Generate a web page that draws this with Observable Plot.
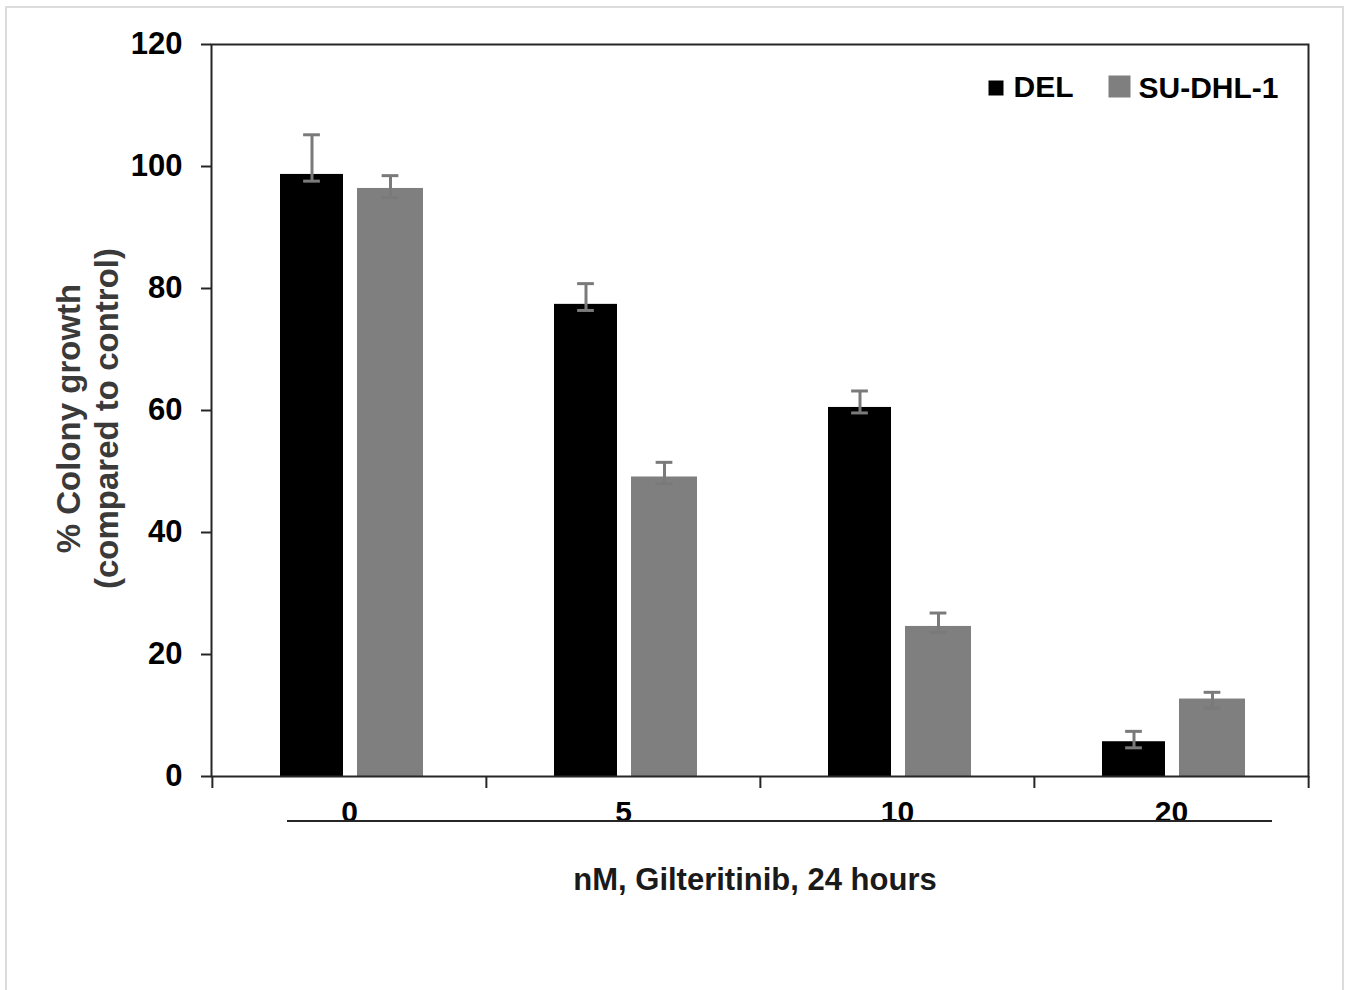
<!DOCTYPE html>
<html>
<head>
<meta charset="utf-8">
<script src="https://cdn.jsdelivr.net/npm/d3@7"></script>
<script src="https://cdn.jsdelivr.net/npm/@observablehq/plot@0.6"></script>
<style>
html, body { margin: 0; padding: 0; background: #fff; overflow: hidden; }
#border { position: absolute; left: 5px; top: 6px; width: 1339px; height: 1000px; border: 2px solid #dcdcdc; box-sizing: border-box; }
#chart { position: absolute; left: 0; top: 0; }
</style>
</head>
<body>
<div id="border"></div>
<div id="chart"></div>
<script>
// ---- data ----
const categories = ["0", "5", "10", "20"];
const seriesNames = ["DEL", "SU-DHL-1"];
const delValues = [98.7, 77.4, 60.5, 5.7];
const delErrHigh = [105.2, 80.8, 63.2, 7.4];
const delErrLow = [97.6, 76.4, 59.6, 4.7];
const suValues = [96.4, 49.1, 24.6, 12.7];
const suErrHigh = [98.5, 51.5, 26.8, 13.8];
const suErrLow = [94.9, 48.0, 23.6, 11.2];
const yTicks = [0, 20, 40, 60, 80, 100, 120];
const yTitle = "% Colony growth\n(compared to control)";
const xTitle = "nM, Gilteritinib, 24 hours";

// ---- layout ----
const W = 1350, H = 990;
const mL = 211, mR = 42, mT = 44, mB = 214;
const bw = (W - mL - mR) / categories.length;
const seriesStyle = {
  "DEL": {fill: "#000000", insetLeft: 68, insetRight: 143},
  "SU-DHL-1": {fill: "#7f7f7f", insetLeft: 145, insetRight: 63}
};
for (const s of seriesNames) {
  const st = seriesStyle[s];
  st.dx = (st.insetLeft - st.insetRight) / 2;
}
const capW = 17;

const rows = [];
categories.forEach((c, i) => {
  rows.push({cat: c, series: "DEL", value: delValues[i], lo: delErrLow[i], hi: delErrHigh[i]});
  rows.push({cat: c, series: "SU-DHL-1", value: suValues[i], lo: suErrLow[i], hi: suErrHigh[i]});
});

const marks = [];
for (const s of seriesNames) {
  const st = seriesStyle[s];
  const d = rows.filter(r => r.series === s);
  marks.push(Plot.barY(d, {x: "cat", y: "value", fill: st.fill, insetLeft: st.insetLeft, insetRight: st.insetRight}));
}
for (const s of seriesNames) {
  const st = seriesStyle[s];
  const d = rows.filter(r => r.series === s);
  const errStyle = {stroke: "#7a7a7a", strokeWidth: 3, dx: st.dx};
  marks.push(Plot.ruleX(d, {x: "cat", y1: "lo", y2: "hi", ...errStyle}));
  marks.push(Plot.tickY(d, {x: "cat", y: "hi", insetLeft: (bw - capW) / 2, insetRight: (bw - capW) / 2, ...errStyle}));
  marks.push(Plot.tickY(d, {x: "cat", y: "lo", insetLeft: (bw - capW) / 2, insetRight: (bw - capW) / 2, ...errStyle}));
}

const pxPerUnit = (H - mT - mB) / 120;
const chart = Plot.plot({
  width: W,
  height: H,
  marginLeft: mL,
  marginRight: mR,
  marginTop: mT,
  marginBottom: mB,
  style: {fontFamily: "'Liberation Sans', Arial, sans-serif", background: "transparent", color: "#000"},
  x: {domain: categories, padding: 0, axis: null},
  y: {domain: [0, 120], axis: null},
  marks: [
    ...marks,
    Plot.frame({stroke: "#262626", strokeWidth: 2}),
    Plot.axisY({ticks: yTicks, tickSize: 10, tickPadding: 19, fontSize: 31, fontWeight: "bold", stroke: "#262626", strokeWidth: 2, label: null}),
    Plot.axisX({tickSize: 0, tickPadding: 24, fontSize: 30, fontWeight: "bold", label: null}),
    // category boundary ticks below the axis
    Plot.ruleX(categories, {x: d => d, y1: 0, y2: -12 / pxPerUnit, dx: -bw / 2, stroke: "#262626", strokeWidth: 2}),
    Plot.ruleX(categories.slice(-1), {x: d => d, y1: 0, y2: -12 / pxPerUnit, dx: bw / 2, stroke: "#262626", strokeWidth: 2}),
    // line under category labels
    Plot.ruleY([-44.5 / pxPerUnit], {y: d => d, insetLeft: 76, insetRight: 36, stroke: "#262626", strokeWidth: 2}),
    // axis titles
    Plot.text([yTitle], {text: d => d, frameAnchor: "left", rotate: -90, dx: -125, dy: 8, fontSize: 33, fontWeight: "bold", fill: "#3a3a3a", lineHeight: 1.15, textAnchor: "middle"}),
    Plot.text([xTitle], {text: d => d, frameAnchor: "bottom", dx: -5, dy: 113, fontSize: 31, fontWeight: "bold", fill: "#1a1a1a", textAnchor: "middle"}),
    // legend
    Plot.dot([seriesNames[0]], {frameAnchor: "top-right", dx: -312.5, dy: 43.5, r: 15 / Math.sqrt(Math.PI), symbol: "square", fill: seriesStyle["DEL"].fill, stroke: null}),
    Plot.text([seriesNames[0]], {text: d => d, frameAnchor: "top-right", dx: -295, dy: 31, textAnchor: "start", fontSize: 30, fontWeight: "bold", fill: "#000"}),
    Plot.dot([seriesNames[1]], {frameAnchor: "top-right", dx: -189, dy: 42, r: 22 / Math.sqrt(Math.PI), symbol: "square", fill: seriesStyle["SU-DHL-1"].fill, stroke: null}),
    Plot.text([seriesNames[1]], {text: d => d, frameAnchor: "top-right", dx: -170, dy: 32, textAnchor: "start", fontSize: 30, fontWeight: "bold", fill: "#000"})
  ]
});
document.getElementById("chart").appendChild(chart);
</script>
</body>
</html>
